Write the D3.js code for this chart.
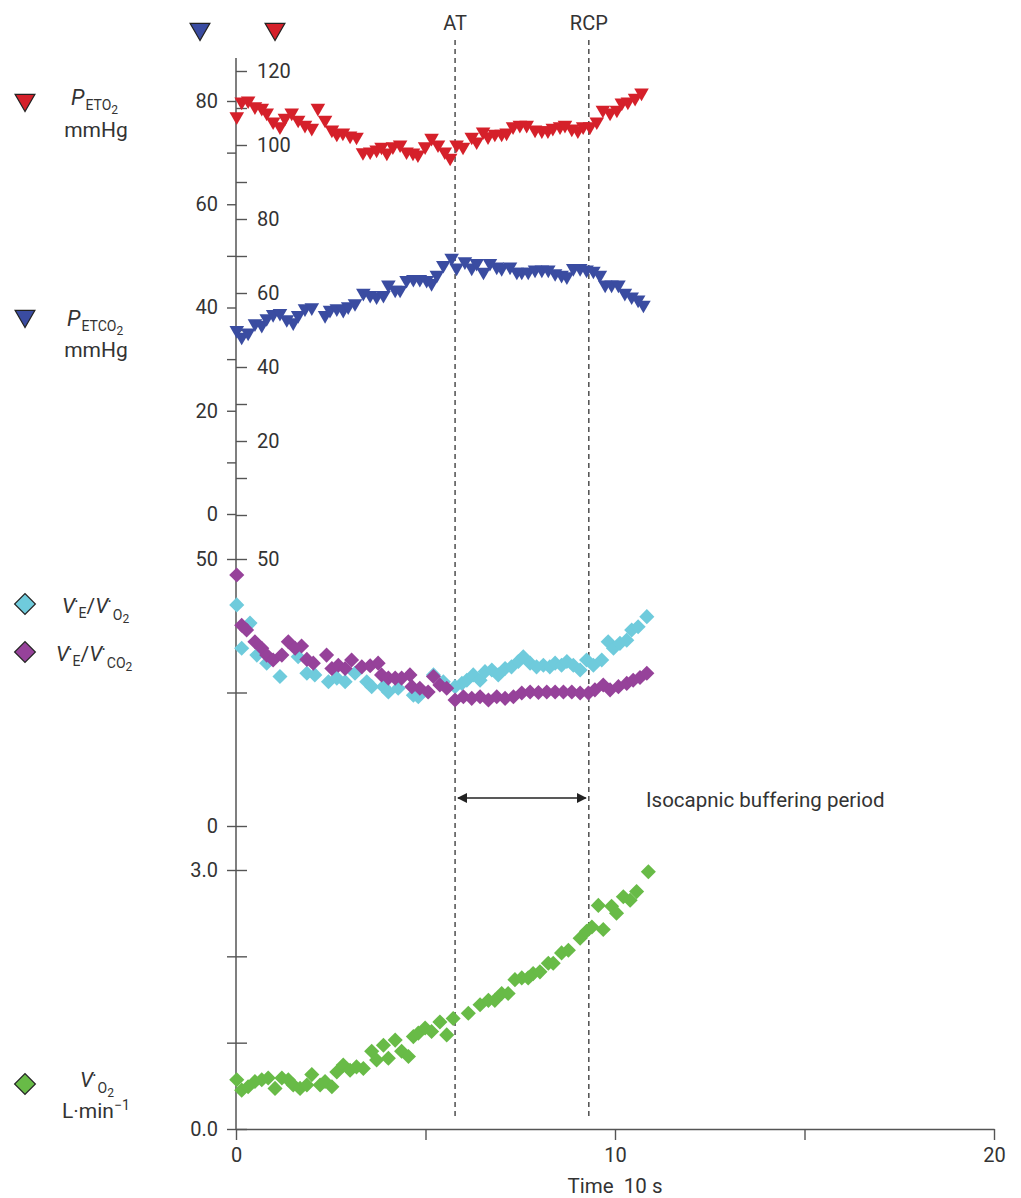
<!DOCTYPE html>
<html>
<head>
<meta charset="utf-8">
<script src="https://cdnjs.cloudflare.com/ajax/libs/d3/7.8.5/d3.min.js"></script>
<style>
body { margin: 0; background: #fff; }
text { font-family: Roboto, "DejaVu Sans", sans-serif; fill: #333; }
</style>
</head>
<body>
<svg id="chart"></svg>
<script>
// [time (x10 s), value]
let peto2 = [[0.02,107.7],[0.15,111.7],[0.32,112.0],[0.50,110.4],[0.68,110.0],[0.81,108.7],[0.98,106.3],[1.16,105.0],[1.29,107.3],[1.47,108.7],[1.64,106.8],[1.82,105.4],[2.00,104.6],[2.16,110.0],[2.35,106.8],[2.53,104.1],[2.66,103.0],[2.82,103.3],[3.01,102.5],[3.18,102.2],[3.35,98.0],[3.54,98.2],[3.71,98.7],[3.84,99.5],[3.98,97.9],[4.14,99.6],[4.33,100.1],[4.50,98.2],[4.67,97.9],[4.80,97.4],[4.99,99.6],[5.16,101.9],[5.33,100.1],[5.51,98.2],[5.65,96.5],[5.82,100.1],[5.99,99.5],[6.22,102.2],[6.35,100.9],[6.52,103.6],[6.65,102.3],[6.83,103.0],[7.01,103.0],[7.14,103.3],[7.31,105.0],[7.49,105.4],[7.67,105.4],[7.89,104.1],[8.07,103.9],[8.23,103.9],[8.36,104.6],[8.55,105.0],[8.68,105.4],[8.86,104.4],[9.02,103.9],[9.16,105.0],[9.34,105.0],[9.52,106.3],[9.68,109.5],[9.87,108.7],[10.05,109.5],[10.18,111.4],[10.34,111.7],[10.53,112.7],[10.70,114.1]]

let petco2 = [[0.02,35.6],[0.15,34.3],[0.32,35.1],[0.50,36.9],[0.68,36.6],[0.81,37.9],[0.98,38.7],[1.16,38.9],[1.34,37.7],[1.51,37.1],[1.64,38.5],[1.82,39.8],[2.00,40.0],[2.35,38.5],[2.48,39.5],[2.66,39.8],[2.83,39.5],[2.96,40.2],[3.14,40.8],[3.36,42.8],[3.54,42.4],[3.71,42.1],[3.89,42.4],[4.02,44.4],[4.20,43.4],[4.33,43.4],[4.50,45.3],[4.68,45.5],[4.85,45.5],[5.03,45.3],[5.16,44.7],[5.30,46.3],[5.47,48.2],[5.69,49.6],[5.82,47.7],[6.04,48.9],[6.22,47.7],[6.35,48.6],[6.53,46.9],[6.70,48.6],[6.88,47.9],[7.01,47.6],[7.23,47.9],[7.41,46.9],[7.54,46.9],[7.71,46.9],[7.89,47.3],[8.07,47.3],[8.24,47.3],[8.42,46.6],[8.59,46.3],[8.73,46.0],[8.90,47.6],[9.08,47.6],[9.25,47.3],[9.43,47.1],[9.60,46.3],[9.74,44.4],[9.91,44.4],[10.09,44.4],[10.26,42.8],[10.44,42.1],[10.61,41.5],[10.75,40.5]]

let veVo2 = [[0.02,41.4],[0.15,33.3],[0.37,38.0],[0.55,32.0],[0.81,30.5],[1.16,28.0],[1.64,31.7],[1.87,28.6],[2.08,28.3],[2.44,27.0],[2.66,27.7],[2.88,27.0],[3.14,28.6],[3.45,27.0],[3.58,26.1],[3.89,26.1],[4.02,25.1],[4.28,25.8],[4.68,24.5],[4.81,24.2],[5.21,28.3],[5.47,27.0],[5.78,26.1],[5.96,26.7],[6.09,27.3],[6.26,28.3],[6.44,27.3],[6.57,28.9],[6.75,29.2],[6.92,28.3],[7.10,29.5],[7.27,29.8],[7.45,30.8],[7.58,31.7],[7.76,30.5],[7.93,29.8],[8.11,30.1],[8.28,29.8],[8.42,30.5],[8.59,30.1],[8.73,30.8],[8.90,30.1],[9.08,29.2],[9.25,31.1],[9.43,30.1],[9.65,31.1],[9.82,34.5],[9.96,33.3],[10.13,34.2],[10.31,34.8],[10.44,36.7],[10.61,37.3],[10.84,39.2]]

let veVco2 = [[0.02,47.0],[0.15,37.6],[0.28,36.7],[0.50,34.5],[0.68,33.3],[0.81,32.0],[0.98,31.1],[1.21,32.0],[1.38,34.5],[1.56,33.3],[1.73,33.7],[1.87,31.2],[2.04,30.5],[2.39,32.0],[2.53,29.5],[2.70,30.1],[2.88,29.5],[3.05,31.1],[3.32,29.8],[3.54,30.0],[3.75,30.5],[3.84,28.3],[4.02,27.7],[4.20,27.7],[4.37,27.7],[4.59,28.3],[4.64,26.1],[4.85,25.8],[5.07,25.1],[5.21,28.0],[5.38,26.4],[5.56,25.8],[5.78,23.6],[6.00,24.2],[6.22,23.9],[6.44,24.2],[6.66,23.6],[6.88,24.2],[7.10,23.9],[7.32,24.2],[7.54,24.9],[7.76,25.1],[7.98,25.0],[8.20,25.1],[8.42,25.1],[8.64,25.1],[8.86,25.1],[9.08,24.9],[9.30,24.9],[9.47,25.5],[9.69,26.4],[9.87,25.5],[10.09,26.1],[10.31,26.7],[10.48,27.3],[10.66,27.8],[10.84,28.6]]

let vo2 = [[0.02,0.57],[0.15,0.45],[0.32,0.49],[0.50,0.55],[0.68,0.57],[0.85,0.59],[1.03,0.47],[1.21,0.59],[1.38,0.57],[1.51,0.51],[1.69,0.47],[1.87,0.51],[2.00,0.63],[2.22,0.51],[2.35,0.55],[2.53,0.49],[2.66,0.66],[2.83,0.74],[3.01,0.68],[3.18,0.72],[3.36,0.70],[3.58,0.90],[3.71,0.80],[3.89,0.97],[4.02,0.82],[4.20,1.03],[4.37,0.90],[4.55,0.84],[4.68,1.07],[4.81,1.11],[4.99,1.17],[5.16,1.13],[5.38,1.24],[5.56,1.09],[5.73,1.28],[6.13,1.34],[6.44,1.44],[6.66,1.49],[6.83,1.49],[7.01,1.57],[7.18,1.57],[7.36,1.73],[7.54,1.75],[7.71,1.75],[7.84,1.80],[8.02,1.82],[8.24,1.92],[8.37,1.92],[8.59,2.04],[8.77,2.07],[9.08,2.21],[9.25,2.29],[9.39,2.34],[9.56,2.59],[9.69,2.31],[9.91,2.58],[10.04,2.50],[10.22,2.69],[10.40,2.65],[10.57,2.75],[10.88,2.98]]

let thresholds = [['AT', 5.78], ['RCP', 9.31]]

let xTicks = [0, 5, 10, 15, 20]
let xLabels = [0, 10, 20]
let co2Ticks = [0, 10, 20, 30, 40, 50, 60, 70, 80]
let co2Labels = [0, 20, 40, 60, 80]
let o2Ticks = [0, 10, 20, 30, 40, 50, 60, 70, 80, 90, 100, 110, 120]
let o2Labels = [20, 40, 60, 80, 100, 120]
let eqTicks = [0, 25, 50]
let vo2Ticks = [0, 1, 2, 3]

let red = '#d5202a', blue = '#3a4ca1', cyan = '#6fcbdc', purple = '#96429a', green = '#68bb47'
let fs = '20px'

let svg = d3.select('#chart')
            .attr('width', 1021)
            .attr('height', 1198)

let x = d3.scaleLinear().domain([0, 20]).range([236, 994])
let yCO2 = d3.scaleLinear().domain([0, 80]).range([514, 101])
let yO2 = d3.scaleLinear().domain([0, 120]).range([515, 71])
let yEq = d3.scaleLinear().domain([0, 50]).range([826, 559])
let yVO2 = d3.scaleLinear().domain([0, 3]).range([1129, 870])

let styleAxis = (g) => {
    g.select('.domain').remove()
    g.selectAll('line').attr('stroke', '#555').attr('stroke-width', 1.4)
    g.selectAll('text').attr('font-size', fs).attr('fill', '#333')
}

// left / right axes, stacked panels
let leftAxis = (scale, ticks, fmt) => {
    svg.append('g').attr('transform', 'translate(236,0)')
        .call(d3.axisLeft(scale).tickValues(ticks).tickSize(9).tickPadding(9).tickFormat(fmt))
        .call(styleAxis)
}
let rightAxis = (scale, ticks, fmt) => {
    svg.append('g').attr('transform', 'translate(236,0)')
        .call(d3.axisRight(scale).tickValues(ticks).tickSize(11).tickPadding(10).tickFormat(fmt))
        .call(styleAxis)
}

leftAxis(yCO2, co2Ticks, d => co2Labels.includes(d) ? d : '')
rightAxis(yO2, o2Ticks, d => o2Labels.includes(d) ? d : '')
leftAxis(yEq, eqTicks, d => d === 25 ? '' : d)
rightAxis(yEq, eqTicks, d => d === 50 ? d : '')
leftAxis(yVO2, vo2Ticks, d => (d === 0 || d === 3) ? d.toFixed(1) : '')
rightAxis(yVO2, vo2Ticks, d => '')

svg.append('line')
    .attr('x1', 236).attr('x2', 236)
    .attr('y1', 58).attr('y2', 1129)
    .attr('stroke', '#555').attr('stroke-width', 1.5)

svg.append('g').attr('transform', 'translate(0,1129)')
    .call(d3.axisBottom(x).tickValues(xTicks).tickSize(11).tickSizeOuter(0).tickPadding(8)
        .tickFormat(d => xLabels.includes(d) ? d : ''))
    .call(g => {
        g.select('.domain').attr('stroke', '#555').attr('stroke-width', 1.5)
        g.selectAll('line').attr('stroke', '#555').attr('stroke-width', 1.4)
        g.selectAll('text').attr('font-size', fs).attr('fill', '#333')
    })

svg.append('text')
    .attr('x', x(10)).attr('y', 1193)
    .attr('text-anchor', 'middle')
    .attr('font-size', '20.5px')
    .style('white-space', 'pre')
    .text('Time  10 s')

// AT / RCP
thresholds.forEach(([name, t]) => {
    svg.append('line')
        .attr('x1', x(t)).attr('x2', x(t))
        .attr('y1', 40).attr('y2', 1118)
        .attr('stroke', '#222').attr('stroke-width', 1.2)
        .attr('stroke-dasharray', '5,4')
    svg.append('text')
        .attr('x', x(t)).attr('y', 30)
        .attr('text-anchor', 'middle')
        .attr('font-size', fs)
        .text(name)
})

let defs = svg.append('defs')
defs.append('marker')
    .attr('id', 'head')
    .attr('viewBox', '0 0 10 10')
    .attr('refX', 9).attr('refY', 5)
    .attr('markerWidth', 10).attr('markerHeight', 10)
    .attr('markerUnits', 'userSpaceOnUse')
    .attr('orient', 'auto-start-reverse')
    .append('path')
    .attr('d', 'M0,0 L10,5 L0,10 z')
    .attr('fill', '#222')

svg.append('line')
    .attr('x1', x(thresholds[0][1]) + 3).attr('x2', x(thresholds[1][1]) - 3)
    .attr('y1', 798).attr('y2', 798)
    .attr('stroke', '#222').attr('stroke-width', 1.4)
    .attr('marker-start', 'url(#head)')
    .attr('marker-end', 'url(#head)')

svg.append('text')
    .attr('x', 646).attr('y', 807)
    .attr('font-size', '20.5px')
    .text('Isocapnic buffering period')

// markers
let tri = d3.symbol().type(d3.symbolTriangle)
let sq = d3.symbol().type(d3.symbolSquare)

let drawTri = (data, y, color) => {
    svg.append('g').selectAll('path')
        .data(data)
        .enter()
        .append('path')
        .attr('d', tri.size(92)())
        .attr('transform', d => 'translate(' + x(d[0]) + ',' + y(d[1]) + ') rotate(180)')
        .attr('fill', color)
}
let drawDiamond = (data, y, color) => {
    svg.append('g').selectAll('path')
        .data(data)
        .enter()
        .append('path')
        .attr('d', sq.size(114)())
        .attr('transform', d => 'translate(' + x(d[0]) + ',' + y(d[1]) + ') rotate(45)')
        .attr('fill', color)
}

drawTri(petco2, yCO2, blue)
drawTri(peto2, yO2, red)
drawDiamond(veVo2, yEq, cyan)
drawDiamond(veVco2, yEq, purple)
drawDiamond(vo2, yVO2, green)

// legend keys
let key = (cx, cy, shape, color) => {
    svg.append('path')
        .attr('d', shape === 'tri' ? tri.size(170)() : sq.size(215)())
        .attr('transform', 'translate(' + cx + ',' + cy + ') rotate(' + (shape === 'tri' ? 180 : 45) + ')')
        .attr('fill', color)
        .attr('stroke', '#222').attr('stroke-width', 1.2)
}
key(200, 29, 'tri', blue)
key(275, 29, 'tri', red)
key(25, 100, 'tri', red)
key(25, 316, 'tri', blue)
key(25, 604, 'sq', cyan)
key(25, 652, 'sq', purple)
key(25, 1084, 'sq', green)

let pLabel = (xx, yy, sub) => {
    let t = svg.append('text').attr('x', xx).attr('y', yy)
    t.append('tspan').attr('font-size', '22px').attr('font-style', 'italic').text('P')
    t.append('tspan').attr('font-size', '14px').attr('dx', 1).attr('dy', 5).text(sub)
    t.append('tspan').attr('font-size', '12px').attr('dy', 4).text('2')
}
pLabel(71, 105, 'ETO')
svg.append('text').attr('x', 96).attr('y', 137).attr('text-anchor', 'middle').attr('font-size', '21px').text('mmHg')
pLabel(67, 326, 'ETCO')
svg.append('text').attr('x', 96).attr('y', 357).attr('text-anchor', 'middle').attr('font-size', '21px').text('mmHg')

let vdot = (t) => {
    t.append('tspan').attr('font-size', '21px').attr('font-style', 'italic').text('V')
    t.append('tspan').attr('font-size', '19px').attr('dx', -1).text('\u02D9')
}
let ratioLabel = (xx, yy, sub) => {
    let t = svg.append('text').attr('x', xx).attr('y', yy)
    vdot(t)
    t.append('tspan').attr('font-size', '14px').attr('dy', 5).text('E')
    t.append('tspan').attr('font-size', '21px').attr('dy', -5).text('/')
    vdot(t)
    t.append('tspan').attr('font-size', '14px').attr('dx', 1).attr('dy', 7).text(sub)
    t.append('tspan').attr('font-size', '12px').attr('dy', 3).text('2')
}
ratioLabel(62, 613, 'O')
ratioLabel(56, 661, 'CO')

let v = svg.append('text').attr('x', 80).attr('y', 1087)
vdot(v)
v.append('tspan').attr('font-size', '14px').attr('dx', 1).attr('dy', 6).text('O')
v.append('tspan').attr('font-size', '12px').attr('dy', 4).text('2')

let l = svg.append('text').attr('x', 62).attr('y', 1118).attr('font-size', '21px')
l.append('tspan').text('L\u00B7min')
l.append('tspan').attr('font-size', '14px').attr('dy', -8).text('\u22121')
</script>
</body>
</html>
